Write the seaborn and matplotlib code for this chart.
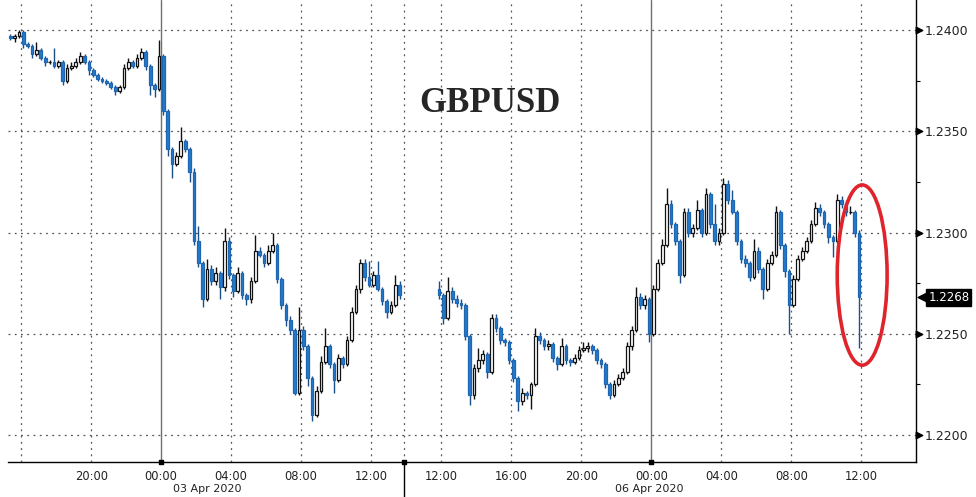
import numpy as np
import pandas as pd
import matplotlib
matplotlib.use("Agg")
import matplotlib.pyplot as plt
import matplotlib.transforms as mtransforms
from matplotlib.patches import Ellipse
import seaborn as sns

# ---- data: 15-minute GBPUSD candles, close + wick length (pips) ----
# session 1: 02 Apr 15:15 -> 03 Apr 13:45
s1_open0 = 1.2397
s1_close = [
    1.2396, 1.2397, 1.2399, 1.2393, 1.2392, 1.2388, 1.2390, 1.2386, 1.2384, 1.2384,
    1.2382, 1.2384, 1.2375, 1.2381, 1.2382, 1.2384, 1.2387, 1.2384, 1.2380, 1.2378,
    1.2376, 1.2375, 1.2374, 1.2372, 1.2370, 1.2372, 1.2381, 1.2384, 1.2382, 1.2386,
    1.2389, 1.2382, 1.2373, 1.2371, 1.2387, 1.2360, 1.2341, 1.2334, 1.2338, 1.2345,
    1.2341, 1.2330, 1.2296, 1.2285, 1.2267, 1.2282, 1.2276, 1.2280, 1.2273, 1.2296,
    1.2279, 1.2271, 1.2280, 1.2269, 1.2267, 1.2276, 1.2291, 1.2289, 1.2285, 1.2291,
    1.2294, 1.2277, 1.2264, 1.2257, 1.2252, 1.2221, 1.2252, 1.2244, 1.2228, 1.2210,
    1.2222, 1.2236, 1.2244, 1.2235, 1.2227, 1.2238, 1.2235, 1.2247, 1.2261, 1.2272,
    1.2285, 1.2278, 1.2274, 1.2279, 1.2272, 1.2266, 1.2261, 1.2264, 1.2274, 1.2269,
]
s1_up = [
    1, 1, 1, 1, 1, 1, 4, 1, 1, 1,
    7, 1, 1, 2, 2, 2, 2, 1, 1, 1,
    1, 1, 1, 1, 1, 1, 2, 2, 1, 2,
    2, 1, 1, 1, 8, 1, 1, 1, 2, 7,
    1, 1, 2, 7, 1, 5, 2, 3, 1, 6,
    2, 1, 3, 1, 1, 2, 8, 2, 1, 3,
    6, 1, 1, 1, 2, 1, 11, 2, 1, 1,
    2, 3, 9, 1, 1, 2, 1, 2, 2, 2,
    2, 2, 8, 2, 7, 1, 1, 2, 5, 2,
]
s1_dn = [
    1, 2, 1, 2, 1, 2, 1, 1, 2, 1,
    1, 1, 2, 1, 1, 1, 1, 1, 2, 1,
    1, 1, 1, 1, 2, 1, 1, 1, 1, 1,
    1, 2, 5, 4, 1, 2, 3, 7, 1, 1,
    1, 5, 2, 2, 4, 1, 2, 2, 6, 2,
    2, 3, 1, 2, 3, 2, 1, 1, 2, 1,
    1, 2, 2, 3, 2, 1, 1, 2, 4, 3,
    1, 1, 1, 2, 6, 1, 2, 1, 1, 1,
    2, 2, 1, 1, 1, 2, 3, 1, 1, 2,
]

# session 2: up to 06 Apr 12:00
s2_open0 = 1.2272
s2_close = [
    1.2269, 1.2258, 1.2271, 1.2267, 1.2265, 1.2264, 1.2249, 1.2220, 1.2233, 1.2237,
    1.2240, 1.2231, 1.2258, 1.2253, 1.2247, 1.2246, 1.2237, 1.2228, 1.2217, 1.2221,
    1.2220, 1.2225, 1.2249, 1.2247, 1.2244, 1.2245, 1.2238, 1.2235, 1.2244, 1.2237,
    1.2236, 1.2238, 1.2242, 1.2243, 1.2244, 1.2242, 1.2237, 1.2235, 1.2225, 1.2220,
    1.2225, 1.2228, 1.2231, 1.2244, 1.2252, 1.2268, 1.2264, 1.2267, 1.2250, 1.2272,
    1.2285, 1.2294, 1.2314, 1.2304, 1.2296, 1.2279, 1.2310, 1.2300, 1.2302, 1.2311,
    1.2300, 1.2319, 1.2304, 1.2296, 1.2300, 1.2324, 1.2316, 1.2310, 1.2296, 1.2287,
    1.2285, 1.2278, 1.2291, 1.2282, 1.2272, 1.2285, 1.2289, 1.2310, 1.2294, 1.2281,
    1.2264, 1.2277, 1.2287, 1.2291, 1.2296, 1.2304, 1.2312, 1.2310, 1.2304, 1.2298,
    1.2296, 1.2316, 1.2314, 1.2310, 1.2310, 1.2300, 1.2268,
]
s2_up = [
    4, 1, 7, 2, 2, 2, 1, 1, 2, 6,
    2, 1, 2, 2, 1, 1, 1, 1, 1, 2,
    1, 1, 4, 2, 1, 2, 1, 1, 4, 1,
    1, 2, 2, 3, 2, 1, 1, 1, 1, 1,
    2, 2, 2, 2, 2, 5, 2, 2, 1, 2,
    2, 3, 8, 2, 1, 1, 2, 2, 2, 5,
    1, 3, 1, 10, 2, 3, 2, 5, 1, 1,
    2, 1, 6, 2, 1, 2, 2, 3, 1, 1,
    1, 2, 2, 2, 2, 2, 3, 2, 1, 1,
    1, 3, 2, 2, 3, 1, 1,
]
s2_dn = [
    2, 3, 1, 2, 2, 2, 2, 5, 2, 2,
    2, 3, 1, 2, 2, 2, 2, 2, 5, 2,
    2, 7, 1, 2, 2, 2, 2, 3, 1, 2,
    2, 1, 1, 1, 2, 2, 2, 2, 2, 2,
    1, 1, 1, 1, 2, 1, 2, 2, 4, 1,
    1, 1, 1, 2, 2, 4, 1, 2, 2, 1,
    2, 1, 2, 2, 2, 1, 2, 1, 2, 2,
    2, 2, 1, 2, 5, 1, 1, 1, 2, 3,
    14, 1, 1, 1, 1, 1, 1, 2, 2, 3,
    8, 1, 2, 2, 1, 2, 25,
]

# x axis is in 15-minute slots, weekend gap squeezed out
s1_start = 0
s2_start = 98
break_slot = 90.5
tick_slots = [19, 35, 51, 67, 83, 99, 115, 131, 147, 163, 179, 195]
tick_labels = ["20:00", "00:00", "04:00", "08:00", "12:00", "12:00",
               "16:00", "20:00", "00:00", "04:00", "08:00", "12:00"]
minor_slots = [3, 11, 27, 43, 59, 75, 107, 123, 139, 155, 171, 187, 203]
grid_slots = [3, 19, 51, 67, 83, 90.5, 99, 115, 131, 163, 179, 195]
day_slots = [35, 147]
date_labels = ["03 Apr 2020", "06 Apr 2020"]
date_slots = [45.5, 146.5]
y_ticks = [1.2200, 1.2250, 1.2300, 1.2350, 1.2400]
last_price = 1.2268


def build(open0, close, up, dn, start):
    c = np.array(close)
    o = np.r_[open0, c[:-1]]
    hi = np.maximum(o, c) + np.array(up) / 10000
    lo = np.minimum(o, c) - np.array(dn) / 10000
    return pd.DataFrame({"slot": start + np.arange(len(c)) + 0.5,
                         "open": o, "high": hi, "low": lo, "close": c})


df = pd.concat([build(s1_open0, s1_close, s1_up, s1_dn, s1_start),
                build(s2_open0, s2_close, s2_up, s2_dn, s2_start)], ignore_index=True)
df["rising"] = df["close"] >= df["open"]

# ---- figure ----
sns.set_theme(style="white")
plt.rcParams["font.family"] = ["DejaVu Sans"]

fig = plt.figure(figsize=(9.76, 4.97), dpi=100)
ax = fig.add_axes([8 / 976, 35 / 497, 908 / 976, 462 / 497])
ax.set_xlim(0, 207.5)
ax.set_ylim(1.21867, 1.24148)

grid_kw = dict(color="#555555", lw=0.9, ls=(0, (1.5, 3.5)), zorder=0)
for y in y_ticks:
    ax.axhline(y, **grid_kw)
for s in grid_slots:
    ax.axvline(s, **grid_kw)
for s in day_slots:
    ax.axvline(s, color="#707070", lw=1.0, zorder=0)

# candles
blue = "#2479cc"
up_df = df[df["rising"]]
dn_df = df[~df["rising"]]
ax.vlines(up_df["slot"], up_df["low"], up_df["high"], color="#111111", lw=1.0, zorder=2)
ax.vlines(dn_df["slot"], dn_df["low"], dn_df["high"], color="#1b4f8a", lw=1.0, zorder=2)
ax.bar(up_df["slot"], up_df["close"] - up_df["open"], bottom=up_df["open"], width=0.62,
       color="white", edgecolor="#111111", linewidth=0.9, zorder=3)
ax.bar(dn_df["slot"], dn_df["open"] - dn_df["close"], bottom=dn_df["close"], width=0.62,
       color=blue, edgecolor="#1f66b0", linewidth=0.9, zorder=3)

# red ring around the last drop
ax.add_patch(Ellipse((195.2, 1.2279), width=11.4, height=0.0089, fill=False,
                     ec="#e0242c", lw=2.6, zorder=5))

# axes styling
for side in ["left", "top"]:
    ax.spines[side].set_visible(False)
for side in ["bottom", "right"]:
    ax.spines[side].set_color("black")
    ax.spines[side].set_linewidth(1.0)

ax.yaxis.tick_right()
ax.set_yticks(y_ticks)
ax.set_yticklabels([f"{v:.4f}" for v in y_ticks])
ax.set_yticks([1.2225, 1.2275, 1.2325, 1.2375], minor=True)
ax.tick_params(axis="y", which="major", length=0, pad=6.5, labelsize=9, labelcolor="#222222")
ax.tick_params(axis="y", which="minor", length=3, width=0.8, color="black", direction="out")

ax.set_xticks(tick_slots)
ax.set_xticklabels(tick_labels)
ax.set_xticks(minor_slots, minor=True)
ax.tick_params(axis="x", which="both", length=4, width=0.8, color="black",
               direction="out", pad=2, labelsize=8.3, labelcolor="#222222")

ytrans = mtransforms.blended_transform_factory(ax.transAxes, ax.transData)
xtrans = mtransforms.blended_transform_factory(ax.transData, ax.transAxes)
ax.scatter(np.full(len(y_ticks), 1.0035), y_ticks, marker=">", s=22, color="black",
           transform=ytrans, clip_on=False, zorder=6)

# day markers and weekend break
ax.scatter(day_slots + [break_slot], [0, 0, 0], marker="s", s=9, color="black",
           transform=xtrans, clip_on=False, zorder=6)
ax.plot([break_slot, break_slot], [0, -35 / 462], color="black", lw=1.0,
        transform=xtrans, clip_on=False)
for s, lab in zip(date_slots, date_labels):
    ax.text(s, -0.059, lab, transform=xtrans, ha="center", va="center",
            fontsize=8.0, color="#222222")

# last price tag
ax.scatter([1.0075], [last_price], marker="<", s=60, color="black",
           transform=ytrans, clip_on=False, zorder=6)
ax.text(1.0135, last_price, f"{last_price:.4f}", transform=ytrans, ha="left", va="center",
        fontsize=8.5, color="white",
        bbox=dict(boxstyle="square,pad=0.15", fc="black", ec="black"))

fig.text(490 / 976, 1 - 103 / 497, "GBPUSD", ha="center", va="center",
         family=["Liberation Serif", "DejaVu Serif"], weight="bold", fontsize=25)

fig.savefig("out.png", dpi=100, facecolor="white")
